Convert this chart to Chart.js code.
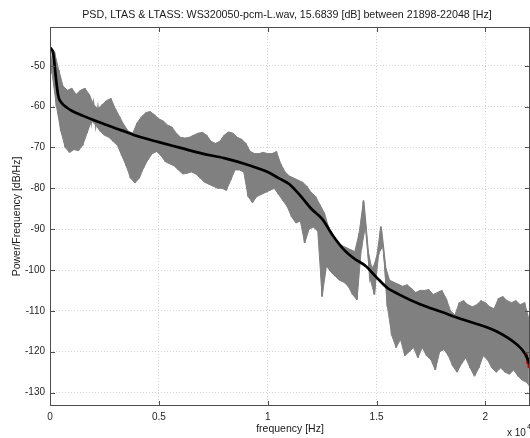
<!DOCTYPE html>
<html>
<head>
<meta charset="utf-8">
<script src="https://cdn.jsdelivr.net/npm/chart.js@4/dist/chart.umd.min.js"></script>
<style>
  html, body { margin: 0; padding: 0; background: #fff; }
  #psd { display: block; }
</style>
</head>
<body>
<canvas id="psd" width="530" height="438"></canvas>
<script>
const FONT = '"Liberation Sans", Arial, Helvetica, sans-serif';
const titleText = 'PSD, LTAS & LTASS: WS320050-pcm-L.wav, 15.6839 [dB] between 21898-22048 [Hz]';

// PSD band: upper edge on each 200 Hz bin, lower edge half a bin later
const halfBin = 100;
const psdFreq = [
  0, 200, 400, 600, 800, 1000, 1200, 1400, 1600, 1800,
  2000, 2200, 2400, 2600, 2800, 3000, 3200, 3400, 3600, 3800,
  4000, 4200, 4400, 4600, 4800, 5000, 5200, 5400, 5600, 5800,
  6000, 6200, 6400, 6600, 6800, 7000, 7200, 7400, 7600, 7800,
  8000, 8200, 8400, 8600, 8800, 9000, 9200, 9400, 9600, 9800,
  10000, 10200, 10400, 10600, 10800, 11000, 11200, 11400, 11600, 11800,
  12000, 12200, 12400, 12600, 12800, 13000, 13200, 13400, 13600, 13800,
  14000, 14200, 14400, 14600, 14800, 15000, 15200, 15400, 15600, 15800,
  16000, 16200, 16400, 16600, 16800, 17000, 17200, 17400, 17600, 17800,
  18000, 18200, 18400, 18600, 18800, 19000, 19200, 19400, 19600, 19800,
  20000, 20200, 20400, 20600, 20800, 21000, 21200, 21400, 21600, 21800,
  22000
];
const psdUpper = [
  -45.3, -46.5, -51, -55, -56, -55.5, -57, -56, -55.5, -57,
  -59.5, -60.5, -59.5, -58.5, -58, -60.5, -62.5, -64.5, -66, -66.5,
  -64, -62.5, -61.5, -61.2, -62, -63, -63.5, -64.5, -65, -66.5,
  -67.5, -67.7, -67.5, -67, -66.5, -66.3, -67, -68.5, -69, -68.5,
  -67, -66.2, -66.5, -67.5, -68, -69, -71, -71.5, -71.5, -71.2,
  -71.5, -71.5, -71, -74, -76, -77, -77.5, -78, -78.5, -79.5,
  -81, -82, -84, -86, -89.5, -92, -93.4, -94, -94.5, -95,
  -95.5, -91, -83, -95, -100, -97, -89.4, -99, -102.5, -103,
  -103.5, -104, -103.6, -104.5, -105.5, -105, -105, -104.8, -106, -105.5,
  -105, -107, -110, -111, -108, -107.5, -108.5, -109, -108.5, -107.5,
  -108, -109, -109.5, -107, -106.5, -107.5, -108, -107.5, -108.5, -108,
  -112
];
const psdLower = [
  -52, -60, -66, -70, -71.2, -70.5, -70.8, -69.5, -66.5, -63.5,
  -64.5, -66, -67, -67.5, -68.5, -69.5, -72, -74.5, -77.5, -78.7,
  -77.5, -75, -73, -71.5, -71, -72, -73.5, -74, -74.5, -75.5,
  -76.5, -76.3, -76, -76.5, -77.5, -78.5, -79, -79.5, -80, -80,
  -80.5, -78, -75.5, -75.5, -76, -82, -83.5, -82, -81.5, -81,
  -80.5, -80, -81.5, -83, -84.5, -87, -88.5, -88, -93.4, -90,
  -89.5, -90.5, -106.5, -99, -100.5, -101.5, -102.5, -103, -104, -106,
  -107.3, -95, -89, -102, -106, -96, -94, -109, -116, -119,
  -117, -121, -120, -119, -121.5, -119, -121, -122, -124.5, -120,
  -119.5, -121, -123.5, -125, -123, -121.5, -124, -126, -124, -121,
  -122, -124, -125, -124, -125, -125.5, -124.5, -126, -127, -127.5,
  -129
];

// LTASS: long-term average, smooth
const ltassFreq = [
  0, 150, 280, 380, 540, 770, 1000, 1500, 2000, 2500,
  3000, 3500, 4000, 5000, 6000, 7000, 8000, 9000, 10000, 10500,
  11000, 11500, 12000, 12500, 13000, 13500, 14000, 14500, 15000, 15500,
  16000, 17000, 18000, 19000, 20000, 20500, 21000, 21500, 21800, 22050
];
const ltassDb = [
  -45.5, -47, -53.4, -57.4, -59.1, -60.2, -61, -62.2, -63.3, -64.3,
  -65.3, -66.2, -67.2, -68.7, -70.1, -71.5, -72.6, -74.1, -76, -77.5,
  -79, -81.8, -85, -87.5, -91.6, -95, -97.3, -99, -101.8, -104.4,
  -105.9, -108.4, -110.3, -112.2, -113.9, -115, -116.5, -118.5, -120.3, -123
];

// measured band 21898-22048 Hz
const bandFreq = [21898, 21930, 21960, 21990, 22020, 22048];
const bandDb = [-120.5, -123, -121.5, -124, -122.5, -124.5];

const xTicks = [0, 5000, 10000, 15000, 20000];
const xTickLabels = ['0', '0.5', '1', '1.5', '2'];
const yTicks = [-130, -120, -110, -100, -90, -80, -70, -60, -50];

const upperPoints = psdFreq.map((f, i) => ({ x: f, y: psdUpper[i] }));
const lowerPoints = psdFreq.map((f, i) => ({ x: f + halfBin, y: psdLower[i] }));
const psdPoints = [];
upperPoints.forEach((p, i) => { psdPoints.push(p, lowerPoints[i]); });
const ltassPoints = ltassFreq.map((f, i) => ({ x: f, y: ltassDb[i] }));
const bandPoints = bandFreq.map((f, i) => ({ x: f, y: bandDb[i] }));

// box, inward ticks and the texts
const frame = {
  id: 'frame',
  afterDraw(chart) {
    const { ctx, chartArea: a, scales: { x, y } } = chart;
    ctx.save();
    ctx.strokeStyle = '#4d4d4d';
    ctx.lineWidth = 1;
    ctx.strokeRect(a.left + 0.5, a.top + 0.5, a.right - a.left - 1, a.bottom - a.top - 1);
    ctx.beginPath();
    x.ticks.forEach(t => {
      const px = Math.round(x.getPixelForValue(t.value)) + 0.5;
      ctx.moveTo(px, a.bottom); ctx.lineTo(px, a.bottom - 5);
      ctx.moveTo(px, a.top); ctx.lineTo(px, a.top + 5);
    });
    y.ticks.forEach(t => {
      const py = Math.round(y.getPixelForValue(t.value)) + 0.5;
      ctx.moveTo(a.left, py); ctx.lineTo(a.left + 5, py);
      ctx.moveTo(a.right, py); ctx.lineTo(a.right - 5, py);
    });
    ctx.stroke();

    ctx.fillStyle = '#1a1a1a';
    ctx.textAlign = 'center';
    ctx.textBaseline = 'middle';
    ctx.font = `10.7px ${FONT}`;
    ctx.fillText(titleText, 287, 15);
    ctx.font = `10.5px ${FONT}`;
    ctx.fillText('frequency [Hz]', 290, 429);
    ctx.save();
    ctx.translate(17, (a.top + a.bottom) / 2);
    ctx.rotate(-Math.PI / 2);
    ctx.fillText('Power/Frequency [dB/Hz]', 0, 0);
    ctx.restore();
    ctx.textAlign = 'left';
    ctx.font = `10px ${FONT}`;
    ctx.fillText('x 10', 507, 433);
    ctx.font = `7px ${FONT}`;
    ctx.fillText('4', 527, 427);
    ctx.restore();
  }
};

const setTicks = values => scale => { scale.ticks = values.map(v => ({ value: v })); };
const gray = '#808080';

new Chart(document.getElementById('psd'), {
  type: 'line',
  data: {
    datasets: [
      { label: 'LTASS', data: ltassPoints, borderColor: '#000', borderWidth: 2.7,
        pointRadius: 0, cubicInterpolationMode: 'monotone' },
      { label: 'LTAS', data: bandPoints, borderColor: '#c00000', borderWidth: 2,
        pointRadius: 0 },
      { label: 'PSD', data: psdPoints, borderColor: gray, borderWidth: 1.8,
        pointRadius: 0 },
      // body of the PSD band between its two edges
      { label: 'PSD upper', data: upperPoints, borderColor: gray, borderWidth: 1,
        backgroundColor: gray, fill: '+1', pointRadius: 0 },
      { label: 'PSD lower', data: lowerPoints, borderColor: gray, borderWidth: 1,
        pointRadius: 0 }
    ]
  },
  options: {
    responsive: false,
    animation: false,
    devicePixelRatio: 1,
    layout: { padding: { top: 27, right: -1, bottom: 0, left: 0 } },
    plugins: { legend: { display: false }, tooltip: { enabled: false }, title: { display: false } },
    scales: {
      x: {
        type: 'linear', bounds: 'data', min: 0, max: 22050,
        afterBuildTicks: setTicks(xTicks),
        afterFit: s => { s.height = 32; },
        grid: { color: '#d4d4d4', drawTicks: false },
        border: { display: false, dash: [1, 2] },
        ticks: {
          maxRotation: 0, padding: 5, autoSkip: false,
          color: '#262626', font: { size: 10, family: FONT },
          callback: (v, i) => xTickLabels[i]
        }
      },
      y: {
        type: 'linear', bounds: 'data', min: -133.3, max: -40.5,
        afterBuildTicks: setTicks(yTicks),
        afterFit: s => { s.width = 50; },
        grid: { color: '#d4d4d4', drawTicks: false },
        border: { display: false, dash: [1, 2] },
        ticks: {
          padding: 5, autoSkip: false,
          color: '#262626', font: { size: 10, family: FONT }
        }
      }
    }
  },
  plugins: [frame]
});
</script>
</body>
</html>
